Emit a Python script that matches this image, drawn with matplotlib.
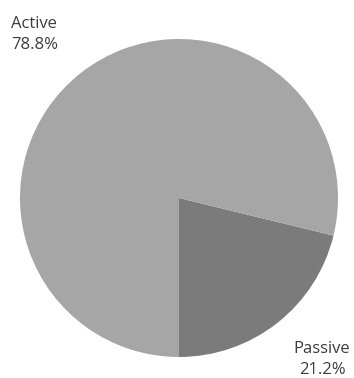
import matplotlib.pyplot as plt

labels = ['Passive', 'Active']
shares = [21.2, 78.8]
colors = ['#7b7b7b', '#a6a6a6']

fig = plt.figure(figsize=(3.54, 3.78), dpi=100)
ax = fig.add_axes([0, 0, 1, 1])

# passive slice first, starting straight down and going counter-clockwise
ax.pie(shares, colors=colors, startangle=-90, counterclock=True,
       center=(179, 180), radius=159, frame=True)
ax.set_xlim(0, 354)
ax.set_ylim(0, 378)
ax.axis('off')

txt = dict(fontsize=12, color='#3c3c3c', family='Open Sans', linespacing=1.45)
ax.text(11, 362, f'{labels[1]}\n{shares[1]}%', ha='left', va='top', **txt)
ax.text(322, 37, f'{labels[0]}\n{shares[0]}%', ha='center', va='top', **txt)

fig.savefig('out.png', dpi=100)
